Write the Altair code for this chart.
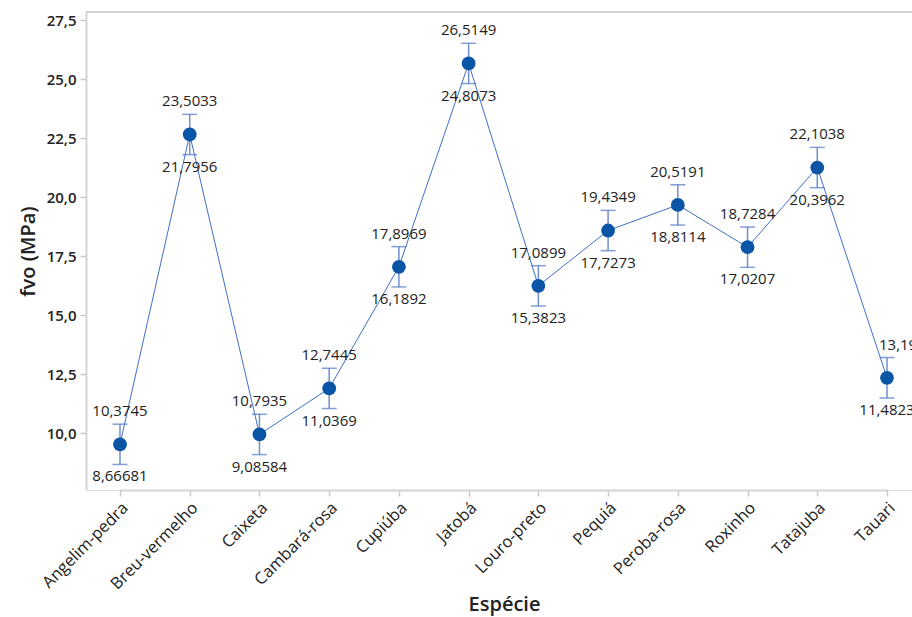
import altair as alt
import pandas as pd

especies = ["Angelim-pedra", "Breu-vermelho", "Caixeta", "Cambará-rosa", "Cupiúba", "Jatobá",
            "Louro-preto", "Pequiá", "Peroba-rosa", "Roxinho", "Tatajuba", "Tauari"]
media = [9.5207, 22.6495, 9.9397, 11.8907, 17.0431, 25.6611,
         16.2361, 18.5811, 19.6653, 17.8746, 21.2500, 12.3400]
inferior = [8.66681, 21.7956, 9.08584, 11.0369, 16.1892, 24.8073,
            15.3823, 17.7273, 18.8114, 17.0207, 20.3962, 11.4823]
superior = [10.3745, 23.5033, 10.7935, 12.7445, 17.8969, 26.5149,
            17.0899, 19.4349, 20.5191, 18.7284, 22.1038, 13.1977]
y_ticks = [10.0, 12.5, 15.0, 17.5, 20.0, 22.5, 25.0, 27.5]

df = pd.DataFrame({
    "Espécie": especies,
    "media": media,
    "inf": inferior,
    "sup": superior,
    "inf_txt": [str(v).replace(".", ",") for v in inferior],
    "sup_txt": [str(v).replace(".", ",") for v in superior],
})

W, H = 826, 478
FONT = "Open Sans"

xenc = alt.X("Espécie:N", sort=especies, title="Espécie",
             scale=alt.Scale(type="point", range=[34, 801], padding=0),
             axis=alt.Axis(labelAngle=-45, labelAlign="right", labelBaseline="middle",
                           labelFontSize=16.5, labelColor="#222", labelFont=FONT, labelPadding=9,
                           labelOffset=5,
                           tickColor="#c8c8c8", tickSize=6, tickWidth=1.5,
                           domainColor="#d4d4d4", domainWidth=2,
                           titleFont=FONT, titleFontSize=20, titleFontWeight=600, titleColor="#222",
                           titleX=418, titleY=104, titleAnchor="middle"))
yscale = alt.Scale(domain=[7.585, 27.84], nice=False, zero=False)

base = alt.Chart(df)

line = base.mark_line(color="#3f70c4", strokeWidth=1).encode(
    x=xenc,
    y=alt.Y("media:Q", scale=yscale, title="fvo (MPa)",
            axis=alt.Axis(values=y_ticks, grid=False,
                          labelExpr="replace(format(datum.value, '.1f'), '.', ',')",
                          labelFontSize=15, labelFontWeight=600, labelColor="#222", labelFont=FONT,
                          labelPadding=4,
                          tickColor="#c8c8c8", tickSize=6, tickWidth=1.5,
                          domainColor="#d4d4d4", domainWidth=2,
                          titleFont=FONT, titleFontSize=20, titleFontWeight=600, titleColor="#222",
                          titleAngle=-90, titleX=-58, titleY=239, titleAlign="center",
                          titleBaseline="middle")),
)

err = base.mark_rule(color="#6f8fcf", strokeWidth=1.5).encode(
    x=alt.X("Espécie:N", sort=especies),
    y=alt.Y("inf:Q", scale=yscale),
    y2="sup:Q",
)
cap_top = base.mark_tick(color="#4f77c2", size=15, thickness=1.5, orient="horizontal").encode(
    x=alt.X("Espécie:N", sort=especies),
    y=alt.Y("sup:Q", scale=yscale),
)
cap_bot = base.mark_tick(color="#4f77c2", size=15, thickness=1.5, orient="horizontal").encode(
    x=alt.X("Espécie:N", sort=especies),
    y=alt.Y("inf:Q", scale=yscale),
)
dots = base.mark_circle(color="#0a55a6", size=190, opacity=1).encode(
    x=alt.X("Espécie:N", sort=especies),
    y=alt.Y("media:Q", scale=yscale),
)
txt_top = base.transform_filter(alt.datum["Espécie"] != "Tauari").mark_text(
    dy=-5, baseline="bottom", fontSize=15, font=FONT, color="#222").encode(
    x=alt.X("Espécie:N", sort=especies),
    y=alt.Y("sup:Q", scale=yscale),
    text="sup_txt:N",
)
txt_top_last = base.transform_filter(alt.datum["Espécie"] == "Tauari").mark_text(
    dy=-5, dx=-8, baseline="bottom", align="left", fontSize=15, font=FONT, color="#222").encode(
    x=alt.X("Espécie:N", sort=especies),
    y=alt.Y("sup:Q", scale=yscale),
    text="sup_txt:N",
)
txt_bot = base.mark_text(dy=5, baseline="top", fontSize=15, font=FONT, color="#222").encode(
    x=alt.X("Espécie:N", sort=especies),
    y=alt.Y("inf:Q", scale=yscale),
    text="inf_txt:N",
)
top_border = alt.Chart(pd.DataFrame({"k": [0]})).mark_rule(color="#d4d4d4", strokeWidth=2).encode(
    x=alt.value(0), x2=alt.value(W), y=alt.value(0)
)

chart = alt.layer(top_border, line, err, cap_top, cap_bot, dots, txt_top, txt_top_last, txt_bot).properties(
    width=W, height=H,
    autosize=alt.AutoSizeParams(type="none"),
    padding={"left": 86, "top": 12, "right": 0, "bottom": 127},
).configure_view(stroke=None).configure(background="white")

chart.save("out.html", embed_options={"renderer": "svg", "actions": False})
